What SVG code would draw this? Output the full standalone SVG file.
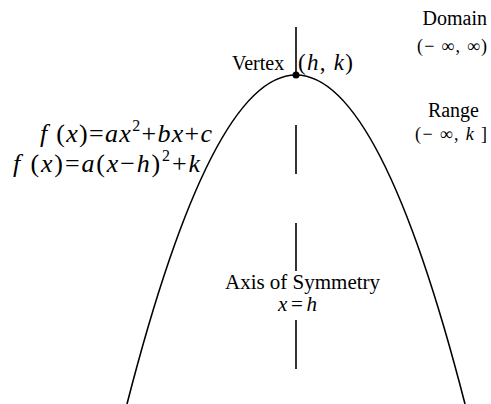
<svg xmlns="http://www.w3.org/2000/svg" width="491" height="404" viewBox="0 0 491 404">
<style>
.t{font-family:"Liberation Serif","Times New Roman",serif;fill:#000}
.i{font-style:italic}
.ln{stroke:#000;stroke-width:1.6;fill:none}
</style>
<rect width="491" height="404" fill="#fff"/>
<g id="connectors">
<path class="ln" d="M127,404 Q296,-254 465,404"/>
<line class="ln" x1="296" y1="27" x2="296" y2="75"/>
<line class="ln" x1="296" y1="125" x2="296" y2="174"/>
<line class="ln" x1="296" y1="223" x2="296" y2="271"/>
<line class="ln" x1="296" y1="320" x2="296" y2="369"/>
</g>
<g id="vertex">
<circle cx="296" cy="75" r="3.5" fill="#000"/>
<text class="t" x="232" y="70" font-size="20">Vertex</text>
<text class="t" x="298" y="70" font-size="23" textLength="55" lengthAdjust="spacing">(<tspan class="i">h</tspan>, <tspan class="i">k</tspan>)</text>
</g>
<g id="domain">
<text class="t" x="487" y="25" font-size="20" text-anchor="end">Domain</text>
<text class="t" x="417" y="52" font-size="18" textLength="70" lengthAdjust="spacing">(− ∞, ∞)</text>
</g>
<g id="range">
<text class="t" x="479" y="117" font-size="20" text-anchor="end">Range</text>
<text class="t" x="415" y="140" font-size="18" textLength="72" lengthAdjust="spacing">(− ∞, <tspan class="i">k</tspan> ]</text>
</g>
<g id="formulas">
<text class="t" x="40" y="142" font-size="26" textLength="172" lengthAdjust="spacing"><tspan class="i">f</tspan> (<tspan class="i">x</tspan>)=<tspan class="i">ax</tspan><tspan font-size="16" dy="-11">2</tspan><tspan dy="11">+</tspan><tspan class="i">bx</tspan>+<tspan class="i">c</tspan></text>
<text class="t" x="13" y="172" font-size="26" textLength="187" lengthAdjust="spacing"><tspan class="i">f</tspan> (<tspan class="i">x</tspan>)=<tspan class="i">a</tspan>(<tspan class="i">x</tspan>−<tspan class="i">h</tspan>)<tspan font-size="16" dy="-11">2</tspan><tspan dy="11">+</tspan><tspan class="i">k</tspan></text>
</g>
<g id="axis">
<text class="t" x="225" y="289" font-size="21" textLength="155" lengthAdjust="spacing">Axis of Symmetry</text>
<text class="t" x="278" y="311" font-size="21" textLength="39" lengthAdjust="spacing"><tspan class="i">x</tspan>=<tspan class="i">h</tspan></text>
</g>
</svg>
